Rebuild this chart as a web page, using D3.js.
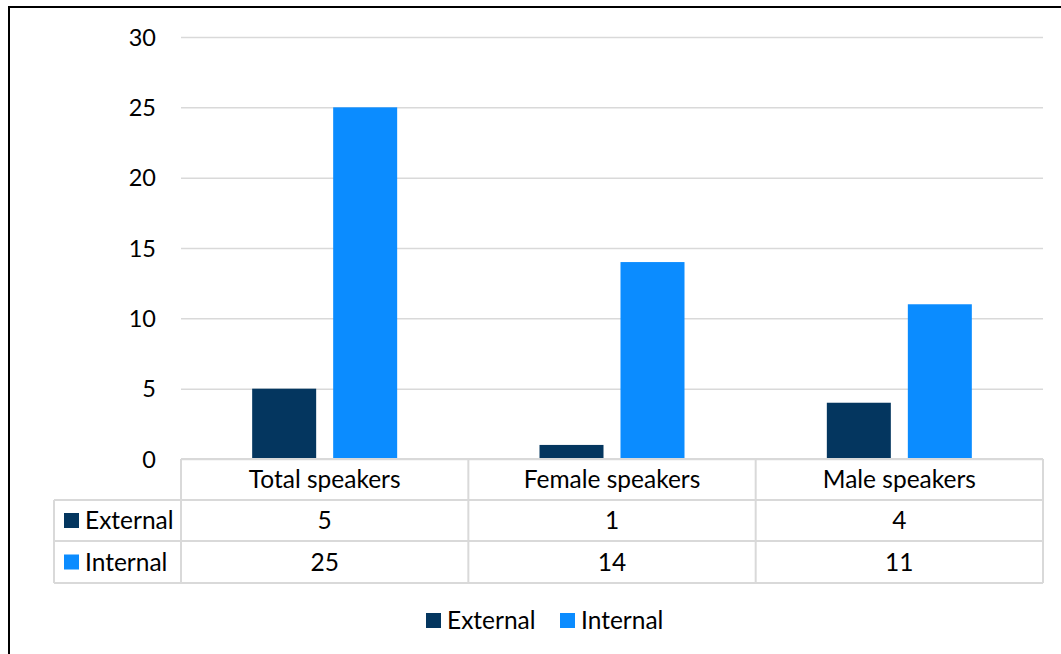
<!DOCTYPE html>
<html>
<head>
<meta charset="utf-8">
<script src="https://cdn.jsdelivr.net/npm/d3@7"></script>
<style>
  html, body { margin: 0; padding: 0; background: #fff; }
  svg { display: block; font-family: Lato, "Open Sans", sans-serif; }
</style>
</head>
<body>
<svg id="chart" width="1061" height="654"></svg>
<script>
// Speaker counts by category
const categories = ["Total speakers", "Female speakers", "Male speakers"];
const seriesNames = ["External", "Internal"];
const externalValues = [5, 1, 4];
const internalValues = [25, 14, 11];
const yTicks = [0, 5, 10, 15, 20, 25, 30];
const seriesColors = ["#04365F", "#0B8CFF"];

const seriesValues = [externalValues, internalValues];
const FS = 23.5;      // axis labels
const FS_T = 24.5;    // table and legend text

const svg = d3.select("#chart");
const W = 1061, H = 654;

// Outer frame (top and left edges visible)
svg.append("line").attr("x1", 8).attr("x2", W).attr("y1", 7).attr("y2", 7)
  .attr("stroke", "#000").attr("stroke-width", 2);
svg.append("line").attr("x1", 9).attr("x2", 9).attr("y1", 6).attr("y2", H)
  .attr("stroke", "#000").attr("stroke-width", 2);

const plotLeft = 181, plotRight = 1043, plotTop = 37, plotBottom = 459;

const x = d3.scaleBand().domain(categories).range([plotLeft, plotRight]).paddingInner(0).paddingOuter(0);
const y = d3.scaleLinear().domain([0, 30]).range([plotBottom, plotTop]);

// Gridlines
svg.append("g").selectAll("line").data(yTicks).join("line")
  .attr("x1", plotLeft).attr("x2", plotRight)
  .attr("y1", d => y(d) + 0.5).attr("y2", d => y(d) + 0.5)
  .attr("stroke", "#d9d9d9").attr("stroke-width", 1.5);

// Y axis labels
const yAxis = d3.axisLeft(y).tickValues(yTicks).tickSize(0).tickPadding(0);
const gy = svg.append("g").attr("transform", `translate(156,0)`).call(yAxis);
gy.select(".domain").remove();
gy.selectAll("text").attr("font-size", FS).attr("fill", "#000")
  .attr("font-family", "Lato, 'Open Sans', sans-serif").attr("dy", "0.34em");

// Bars
const barW = 64, barGap = 17;
const groupW = barW * 2 + barGap;
const bars = svg.append("g");
seriesValues.forEach((vals, si) => {
  bars.selectAll(null).data(vals).join("rect")
    .attr("x", (d, i) => x(categories[i]) + x.bandwidth() / 2 - groupW / 2 + si * (barW + barGap))
    .attr("y", d => y(d))
    .attr("width", barW)
    .attr("height", d => y(0) - y(d))
    .attr("fill", seriesColors[si]);
});

// Data table under the plot
const rowTops = [459, 500, 541, 583];
const tableLeft = 54;
const tbl = svg.append("g");
const gridColor = "#d9d9d9";
// horizontal lines
tbl.append("line").attr("x1", plotLeft).attr("x2", plotRight).attr("y1", rowTops[0]).attr("y2", rowTops[0])
  .attr("stroke", gridColor).attr("stroke-width", 2);
[rowTops[1], rowTops[2], rowTops[3]].forEach(yy => {
  tbl.append("line").attr("x1", tableLeft).attr("x2", plotRight).attr("y1", yy).attr("y2", yy)
    .attr("stroke", gridColor).attr("stroke-width", 2);
});
// vertical lines
tbl.append("line").attr("x1", tableLeft).attr("x2", tableLeft).attr("y1", rowTops[1]).attr("y2", rowTops[3])
  .attr("stroke", gridColor).attr("stroke-width", 2);
const colEdges = categories.map(c => x(c)).concat([plotRight]);
colEdges.forEach(xx => {
  tbl.append("line").attr("x1", xx).attr("x2", xx).attr("y1", rowTops[0]).attr("y2", rowTops[3])
    .attr("stroke", gridColor).attr("stroke-width", 2);
});
// header text
tbl.selectAll(null).data(categories).join("text")
  .attr("x", d => x(d) + x.bandwidth() / 2)
  .attr("y", (rowTops[0] + rowTops[1]) / 2)
  .attr("text-anchor", "middle").attr("dy", "0.36em")
  .attr("font-size", FS_T).attr("fill", "#000")
  .text(d => d);
// rows
seriesNames.forEach((name, si) => {
  const cy = (rowTops[si + 1] + rowTops[si + 2]) / 2;
  tbl.append("rect").attr("x", 64).attr("y", cy - 7.5).attr("width", 15).attr("height", 15)
    .attr("fill", seriesColors[si]);
  tbl.append("text").attr("x", 85).attr("y", cy).attr("dy", "0.36em")
    .attr("font-size", FS_T).attr("fill", "#000").text(name);
  tbl.selectAll(null).data(seriesValues[si]).join("text")
    .attr("x", (d, i) => x(categories[i]) + x.bandwidth() / 2)
    .attr("y", cy).attr("dy", "0.36em")
    .attr("text-anchor", "middle").attr("font-size", FS_T).attr("fill", "#000")
    .text(d => d);
});

// Legend
const legendX = [426, 560];
const lg = svg.append("g");
seriesNames.forEach((name, si) => {
  lg.append("rect").attr("x", legendX[si]).attr("y", 613).attr("width", 15).attr("height", 15)
    .attr("fill", seriesColors[si]);
  lg.append("text").attr("x", legendX[si] + 21).attr("y", 620.5).attr("dy", "0.36em")
    .attr("font-size", FS_T).attr("fill", "#000").text(name);
});
</script>
</body>
</html>
